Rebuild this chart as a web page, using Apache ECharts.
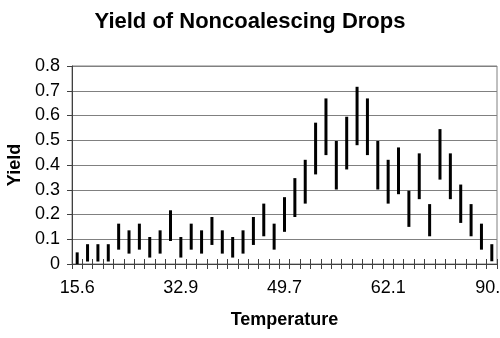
<!DOCTYPE html>
<html>
<head>
<meta charset="utf-8">
<script src="https://cdn.jsdelivr.net/npm/echarts@6/dist/echarts.min.js"></script>
<style>
  html, body { margin: 0; padding: 0; background: #ffffff; }
  #chart { width: 500px; height: 338px; }
</style>
</head>
<body>
<div id="chart"></div>
<script>
// Temperature labels shown on every 10th category
const temperatureLabels = ['15.6', '32.9', '49.7', '62.1', '90.'];
const categoryCount = 41;
const labelEvery = 10;

// Yield range (low / high) for each temperature step
const yieldLow = [
  0.000, 0.010, 0.010, 0.010, 0.058, 0.042, 0.058, 0.026, 0.042, 0.093,
  0.026, 0.058, 0.042, 0.077, 0.042, 0.026, 0.042, 0.077, 0.112, 0.058,
  0.130, 0.190, 0.244, 0.362, 0.440, 0.301, 0.382, 0.480, 0.440, 0.301,
  0.244, 0.282, 0.150, 0.262, 0.112, 0.341, 0.262, 0.166, 0.112, 0.058,
  0.011
];
const yieldHigh = [
  0.047, 0.080, 0.080, 0.080, 0.163, 0.136, 0.163, 0.109, 0.136, 0.217,
  0.109, 0.163, 0.136, 0.190, 0.136, 0.109, 0.136, 0.190, 0.244, 0.163,
  0.270, 0.347, 0.421, 0.571, 0.669, 0.497, 0.595, 0.716, 0.669, 0.497,
  0.421, 0.471, 0.296, 0.447, 0.242, 0.545, 0.447, 0.321, 0.242, 0.163,
  0.080
];
const yTicks = ['0', '0.1', '0.2', '0.3', '0.4', '0.5', '0.6', '0.7', '0.8'];

const categories = Array.from({ length: categoryCount }, (_, i) => String(i));
const rangeData = categories.map((c, i) => [i, yieldLow[i], yieldHigh[i]]);

const font = 'Arial, "Liberation Sans", sans-serif';
const axisColor = '#404040';
const gridColor = '#808080';

const chart = echarts.init(document.getElementById('chart'), null, { renderer: 'canvas' });

const baseX = {
  type: 'category',
  data: categories,
  position: 'bottom',
  boundaryGap: true,
  axisLine: { show: true, onZero: false, lineStyle: { color: axisColor, width: 1 } },
  splitLine: { show: false }
};

chart.setOption({
  animation: false,
  backgroundColor: '#ffffff',
  title: {
    text: 'Yield of Noncoalescing Drops',
    left: 'center',
    top: 6,
    textStyle: { fontFamily: font, fontSize: 22, fontWeight: 'bold', color: '#000' }
  },
  grid: {
    left: 72, right: 3, top: 66, bottom: 74,
    outerBoundsMode: 'none',
    containLabel: false,
    show: true, borderColor: gridColor, borderWidth: 1
  },
  xAxis: [
    Object.assign({}, baseX, {
      name: 'Temperature',
      nameLocation: 'middle',
      nameGap: 47,
      nameTextStyle: { fontFamily: font, fontSize: 18, fontWeight: 'bold', color: '#000' },
      axisTick: { show: true, interval: 0, length: 5, inside: false, lineStyle: { color: axisColor } },
      axisLabel: {
        interval: labelEvery - 1,
        margin: 15,
        fontFamily: font,
        fontSize: 18,
        color: '#000',
        formatter: (v, i) => {
          const t = temperatureLabels[Math.floor(i / labelEvery)] || '';
          return i === categoryCount - 1 ? '{last|' + t + '}' : t;
        },
        rich: { last: { fontFamily: font, fontSize: 18, color: '#000', padding: [0, 8, 0, 0] } }
      }
    }),
    Object.assign({}, baseX, {
      axisTick: { show: true, interval: 0, length: 5, inside: true, lineStyle: { color: axisColor } },
      axisLabel: { show: false }
    })
  ],
  yAxis: {
    type: 'value',
    min: 0,
    max: 0.8,
    interval: 0.1,
    name: 'Yield',
    nameLocation: 'middle',
    nameGap: 48,
    nameTextStyle: { fontFamily: font, fontSize: 18, fontWeight: 'bold', color: '#000' },
    axisLine: { show: true, lineStyle: { color: axisColor, width: 1 } },
    axisTick: { show: true, length: 5, lineStyle: { color: axisColor } },
    axisLabel: {
      margin: 12,
      fontFamily: font,
      fontSize: 18,
      color: '#000',
      formatter: (v) => yTicks[Math.round(v * 10)]
    },
    splitLine: { show: true, lineStyle: { color: gridColor, width: 1 } }
  },
  series: [{
    type: 'custom',
    xAxisIndex: 0,
    data: rangeData,
    encode: { x: 0, y: [1, 2] },
    renderItem: (params, api) => {
      const i = api.value(0);
      const lo = api.coord([i, api.value(1)]);
      const hi = api.coord([i, api.value(2)]);
      return {
        type: 'line',
        shape: { x1: lo[0], y1: lo[1], x2: hi[0], y2: hi[1] },
        style: { stroke: '#000', lineWidth: 3 }
      };
    }
  }]
});
</script>
</body>
</html>
